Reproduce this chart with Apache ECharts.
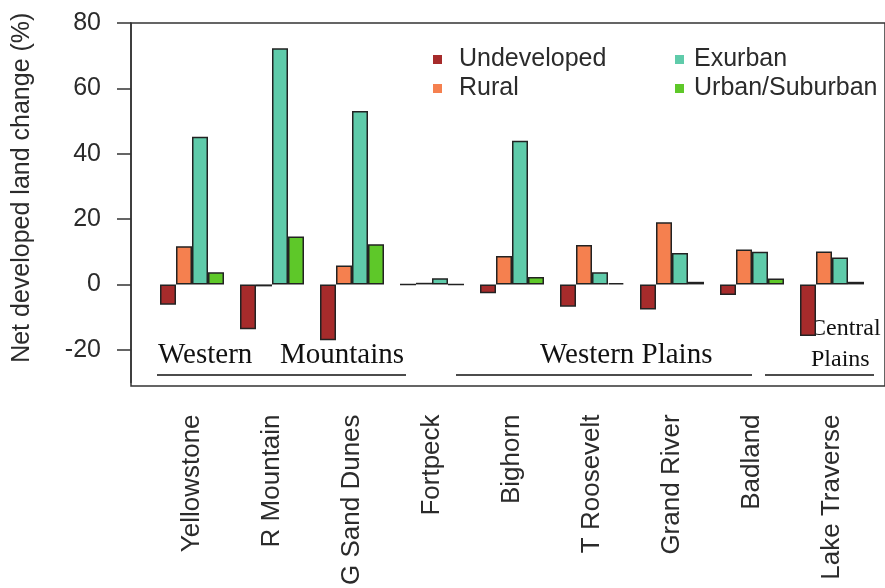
<!DOCTYPE html>
<html>
<head>
<meta charset="utf-8">
<script src="https://cdn.jsdelivr.net/npm/echarts@6/dist/echarts.min.js"></script>
<style>
  html, body { margin: 0; padding: 0; background: #fff; }
  #chart { width: 885px; height: 588px; }
</style>
</head>
<body>
<div id="chart"></div>
<script>
// Study sites along the x axis
const sites = ['Yellowstone', 'R Mountain', 'G Sand Dunes', 'Fortpeck', 'Bighorn',
               'T Roosevelt', 'Grand River', 'Badland', 'Lake Traverse'];

// Net developed land change (%) per housing-density class
const undeveloped   = [-6.2, -13.7, -17.1, 0,   -2.7, -6.8, -7.7, -3.2, -15.8];
const rural         = [11.7, -0.6,   5.8,  0.5,  8.7, 12.1, 19.0, 10.7, 10.1];
const exurban       = [45.2, 72.3,  53.1,  1.9, 44.0,  3.7,  9.6, 10.0,  8.2];
const urbanSuburban = [3.7,  14.7,  12.3,  0,    2.3,  0.4,  0.8,  1.8,  0.8];

const seriesNames = ['Undeveloped', 'Rural', 'Exurban', 'Urban/Suburban'];
const seriesData  = [undeveloped, rural, exurban, urbanSuburban];
const colors      = ['#A62B2B', '#F5804F', '#5FCBAA', '#5EC829'];

// Value axis ticks
const yMin = -30, yMax = 80;
const yTicks = [-20, 0, 20, 40, 60, 80];

const SANS = "'Liberation Sans', Arial, sans-serif";
const SERIF = "'Liberation Serif', 'Times New Roman', serif";
const INK = '#2b2b2b';

const chart = echarts.init(document.getElementById('chart'), null, { renderer: 'canvas' });

const serifText = (text, x, y, size) => ({
  type: 'text', x: x, y: y, silent: true,
  style: { text: text, font: size + 'px ' + SERIF, fill: '#111',
           align: 'left', verticalAlign: 'middle' }
});
const rule = (x1, x2, y) => ({
  type: 'line', silent: true,
  shape: { x1: x1, y1: y, x2: x2, y2: y },
  style: { stroke: '#111', lineWidth: 1.6 }
});
const legendBlock = (names, left, pad) => ({
  data: names, orient: 'vertical', left: left, top: 42,
  itemWidth: 9, itemHeight: 9, itemGap: 4, icon: 'rect',
  itemStyle: { borderWidth: 0 },
  textStyle: { fontFamily: SANS, fontSize: 25, color: INK, lineHeight: 25,
               padding: [0, 0, 0, pad] }
});

chart.setOption({
  backgroundColor: '#fff',
  animation: false,
  grid: [
    // plotting area for the bars
    { left: 152, right: 13, top: 23, bottom: 202, containLabel: false },
    // surrounding frame
    { left: 131, right: -3, top: 23, bottom: 202, show: true,
      borderColor: '#333', borderWidth: 1.5, backgroundColor: 'transparent' }
  ],
  legend: [
    legendBlock(['Undeveloped', 'Rural'], 428, 12),
    legendBlock(['Exurban', 'Urban/Suburban'], 670, 5)
  ],
  xAxis: [
    { type: 'category', gridIndex: 0, data: sites,
      axisLine: { show: false }, axisTick: { show: false },
      axisLabel: { rotate: 90, margin: 32, fontFamily: SANS, fontSize: 26,
                   color: INK, interval: 0 } },
    { type: 'value', gridIndex: 1, show: false, min: 0, max: 1 }
  ],
  yAxis: [
    { type: 'value', gridIndex: 0, min: yMin, max: yMax, offset: 21,
      name: 'Net developed land change (%)', nameLocation: 'middle', nameGap: 96,
      nameTextStyle: { fontFamily: SANS, fontSize: 25, color: INK,
                       padding: [0, 0, 0, 30] },
      splitLine: { show: false },
      axisLine: { show: true, lineStyle: { color: '#333', width: 1.5 } },
      axisTick: { show: true, length: 14, customValues: yTicks,
                  lineStyle: { color: '#333', width: 1.5 } },
      axisLabel: { customValues: yTicks, margin: 30, fontFamily: SANS,
                   fontSize: 25, color: INK } },
    { type: 'value', gridIndex: 1, show: false, min: 0, max: 1 }
  ],
  series: seriesNames.map((name, i) => ({
    name: name, type: 'bar', xAxisIndex: 0, yAxisIndex: 0,
    data: seriesData[i], barWidth: 16, barGap: '0%',
    itemStyle: { color: colors[i], borderColor: '#222', borderWidth: 1.5 }
  })),
  graphic: [
    serifText('Western', 158, 355, 29),
    serifText('Mountains', 280, 355, 29),
    rule(157, 406, 375),
    serifText('Western Plains', 540, 355, 29),
    rule(456, 752, 375),
    serifText('Central', 810, 329, 24),
    serifText('Plains', 811, 360, 24),
    rule(765, 874, 375)
  ]
});
</script>
</body>
</html>
